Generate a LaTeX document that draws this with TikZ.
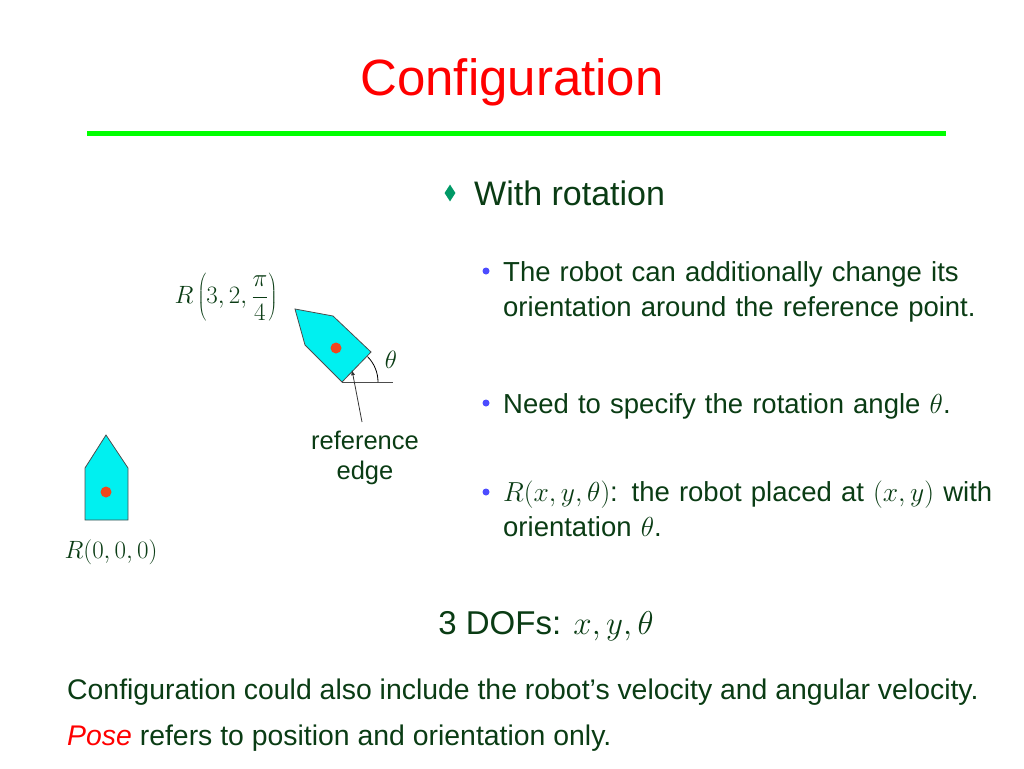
\documentclass[tikz,border=0pt]{standalone}
\usepackage{fix-cm}
\usepackage{fontspec}
\setmainfont{Liberation Sans}
\usetikzlibrary{calc,positioning,arrows,shapes.geometric}
\definecolor{txtgreen}{RGB}{10,60,20}
\definecolor{robotcyan}{RGB}{0,240,240}
\definecolor{dotred}{RGB}{240,70,30}
\begin{document}
\begin{tikzpicture}[x=1pt,y=-1pt,
	every node/.style={text=txtgreen,inner sep=0pt},
	robot/.style={draw=black!70,fill=robotcyan,line width=0.8pt},
	refdot/.style={circle,fill=dotred,minimum size=11pt,draw=none},
	bulletdot/.style={circle,fill=blue!70,minimum size=7pt},
	bullettext/.style={anchor=base west,align=left,font=\fontsize{27.5}{35}\selectfont,text width=520pt},
	mathlabel/.style={font=\fontsize{25}{30}\selectfont}
	]
  \useasboundingbox (0,0) rectangle (1024,768);
  \node (title) at (512,82) {\color{red}\fontsize{51}{56}\selectfont Configuration};
  \draw [green,line width=5pt] (87,133) -- (946,133);
  % heading
  \node [diamond,fill=teal!80!green,minimum width=11pt,minimum height=17pt] (dia) at (450,193) {};
  \node [anchor=west,font=\fontsize{34}{38}\selectfont] (head) at (474,193) {With rotation};
  % bullets
  \node [bulletdot] (b1) at (486,271) {};
  \node [bullettext] (t1) at (503,281) {The robot can additionally change its\\orientation around the reference point.};
  \node [bulletdot] (b2) at (486,403) {};
  \node [bullettext] (t2) at (503,413) {Need to specify the rotation angle $\theta$.};
  \node [bulletdot] (b3) at (486,492) {};
  \node [bullettext] (t3) at (503,501) {$R(x,y,\theta)$: the robot placed at $(x,y)$ with\\orientation $\theta$.};
  \node [font=\fontsize{33}{36}\selectfont] (dof) at (546,626) {3 DOFs: $x,y,\theta$};
  \node [anchor=west,font=\fontsize{28.4}{32}\selectfont] (l1) at (67,692) {Configuration could also include the robot’s velocity and angular velocity.};
  \node [anchor=west,font=\fontsize{28.4}{32}\selectfont] (l2) at (67,738) {\textcolor{red}{\itshape Pose} refers to position and orientation only.};
  % robot at rest
  \draw [robot] (85,520) -- (128,520) -- (128,468) -- (106,435) -- (85,468) -- cycle;
  \node [refdot] (d0) at (106,492) {};
  \node [mathlabel] (r0) at (111,552) {$R(0,0,0)$};
  % rotated robot
  \draw [robot] (295,309) -- (333,316) -- (371,352) -- (342,382) -- (305,345) -- cycle;
  \node [refdot] (d1) at (336,348) {};
  \coordinate (pivot) at (342,382);
  \coordinate (hor) at (393,382);
  \draw [black!70,line width=0.8pt] (pivot) -- (hor);
  \draw [black,line width=0.8pt] (378,382) arc [start angle=0,end angle=-45,radius=36];
  \node [mathlabel] (th) at (391,360) {$\theta$};
  \node [mathlabel] (r1) at (226,297) {$R\left(3,2,\displaystyle\frac{\pi}{4}\right)$};
  \node [align=center,font=\fontsize{25.5}{30}\selectfont] (refedge) at (365,458) {reference\\edge};
  \coordinate (tail) at (362,422);
  \coordinate (tip) at (352,370);
  \draw [-latex,black!80,line width=0.8pt] (tail) -- (tip);
\end{tikzpicture}
\end{document}
